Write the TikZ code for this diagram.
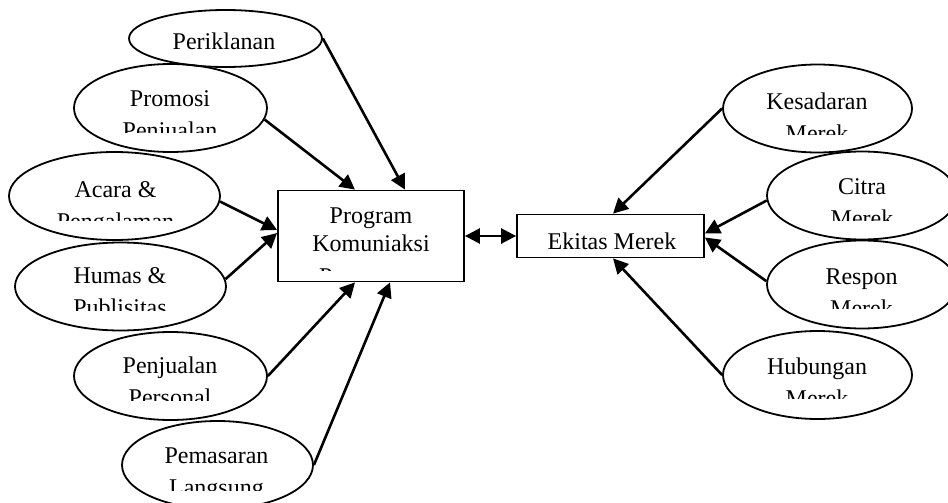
\documentclass[tikz,border=0pt]{standalone}
\usepackage{fontspec}
\setmainfont{Liberation Serif}
\usetikzlibrary{arrows.meta,positioning,shapes.geometric,calc}

\begin{document}
\begin{tikzpicture}[
  x=0.5pt, y=-0.5pt,
  oval/.style={draw, ellipse, line width=0.9pt, inner sep=0pt,
               minimum width=96.5pt, minimum height=44pt},
  wideoval/.style={oval, minimum width=105.5pt},
  box/.style={draw, rectangle, line width=0.9pt, inner sep=0pt},
  lbl/.style={font=\fontsize{12}{16}\selectfont, align=center,
              inner sep=0pt, anchor=base},
  boxlbl/.style={lbl, font=\fontsize{12}{14}\selectfont},
  arr/.style={-{Triangle[length=7.5pt,width=7.5pt]}, line width=1.3pt}
]
  \useasboundingbox (0,0) rectangle (948,503);

  % left: communication tools
  \node[oval, minimum height=28.5pt] (iklan) at (225.5,38.5) {};
  \node[oval] (promosi) at (170.5,108) {};
  \node[wideoval] (acara) at (114.5,196) {};
  \node[wideoval] (humas) at (120.5,286.5) {};
  \node[oval] (personal) at (170.5,376) {};
  \node[oval, minimum width=95.5pt] (langsung) at (217.5,465) {};

  % middle boxes
  \node[box, minimum width=93pt, minimum height=45.5pt] (program) at (371,236) {};
  \node[box, minimum width=93.5pt, minimum height=21.5pt] (ekuitas) at (610.5,236) {};

  % right: brand equity parts
  \node[oval, minimum width=94.5pt] (sadar) at (817.5,108.5) {};
  \node[oval, minimum width=95pt] (citra) at (862,195.5) {};
  \node[oval, minimum width=95pt] (respon) at (862,284.5) {};
  \node[oval, minimum width=94.5pt] (hubungan) at (817.5,375) {};

  % texts (base = last line; lower lines are cut off)
  \node[lbl] (iklan-txt) at (224,49) {Periklanan};
  \begin{scope}
    \clip (60,60) rectangle (280,132);
    \node[lbl] (promosi-txt) at (170,138.7) {Promosi\\Penjualan};
  \end{scope}
  \begin{scope}
    \clip (0,150) rectangle (230,220);
    \node[lbl] (acara-txt) at (115.5,229.7) {Acara \&\\Pengalaman};
  \end{scope}
  \begin{scope}
    \clip (0,242) rectangle (240,310);
    \node[lbl] (humas-txt) at (120,315.3) {Humas \&\\Publisitas};
  \end{scope}
  \begin{scope}
    \clip (60,330) rectangle (280,400);
    \node[lbl] (personal-txt) at (170,405) {Penjualan\\Personal};
  \end{scope}
  \begin{scope}
    \clip (110,420) rectangle (330,490);
    \node[lbl] (langsung-txt) at (216.5,495) {Pemasaran\\Langsung};
  \end{scope}
  \begin{scope}
    \clip (280,192) rectangle (462,270.5);
    \node[boxlbl] (program-txt) at (371,284.5) {Program\\Komuniaksi\\[2.5pt]Pemasaran};
  \end{scope}
  \node[boxlbl] (ekuitas-txt) at (612,249.5) {Ekitas Merek};
  \begin{scope}
    \clip (710,64) rectangle (930,134);
    \node[lbl] (sadar-txt) at (817,141.3) {Kesadaran\\Merek};
  \end{scope}
  \begin{scope}
    \clip (760,150) rectangle (948,220);
    \node[lbl] (citra-txt) at (862,226) {Citra\\Merek};
  \end{scope}
  \begin{scope}
    \clip (760,240) rectangle (948,308.7);
    \node[lbl] (respon-txt) at (861.5,316.3) {Respon\\Merek};
  \end{scope}
  \begin{scope}
    \clip (710,330) rectangle (930,398);
    \node[lbl] (hubungan-txt) at (817,406.3) {Hubungan\\Merek};
  \end{scope}

  % arrows into the programme box
  \draw[arr] (iklan.east) -- ($(program.north)+(34,0)$);
  \draw[arr] (promosi.-7) -- ($(program.north)+(-16,0)$);
  \draw[arr] (acara.-3) -- ($(program.west)+(0,-6)$);
  \draw[arr] (humas.4) -- ($(program.west)+(0,-3)$);
  \draw[arr] (personal.east) -- ($(program.south)+(-16,0)$);
  \draw[arr] (langsung.east) -- ($(program.south)+(19,0)$);

  \draw[arr, {Triangle[length=7.5pt,width=7.5pt]}-{Triangle[length=7.5pt,width=7.5pt]}]
    (program.east) -- (ekuitas.west);

  % arrows into brand equity
  \draw[arr] (sadar.west) -- ($(ekuitas.north)+(2.5,0)$);
  \draw[arr] (citra.183) -- ($(ekuitas.east)+(0,-2.5)$);
  \draw[arr] (respon.178) -- ($(ekuitas.east)+(0,1.5)$);
  \draw[arr] (hubungan.west) -- ($(ekuitas.south)+(2.5,0)$);
\end{tikzpicture}
\end{document}
